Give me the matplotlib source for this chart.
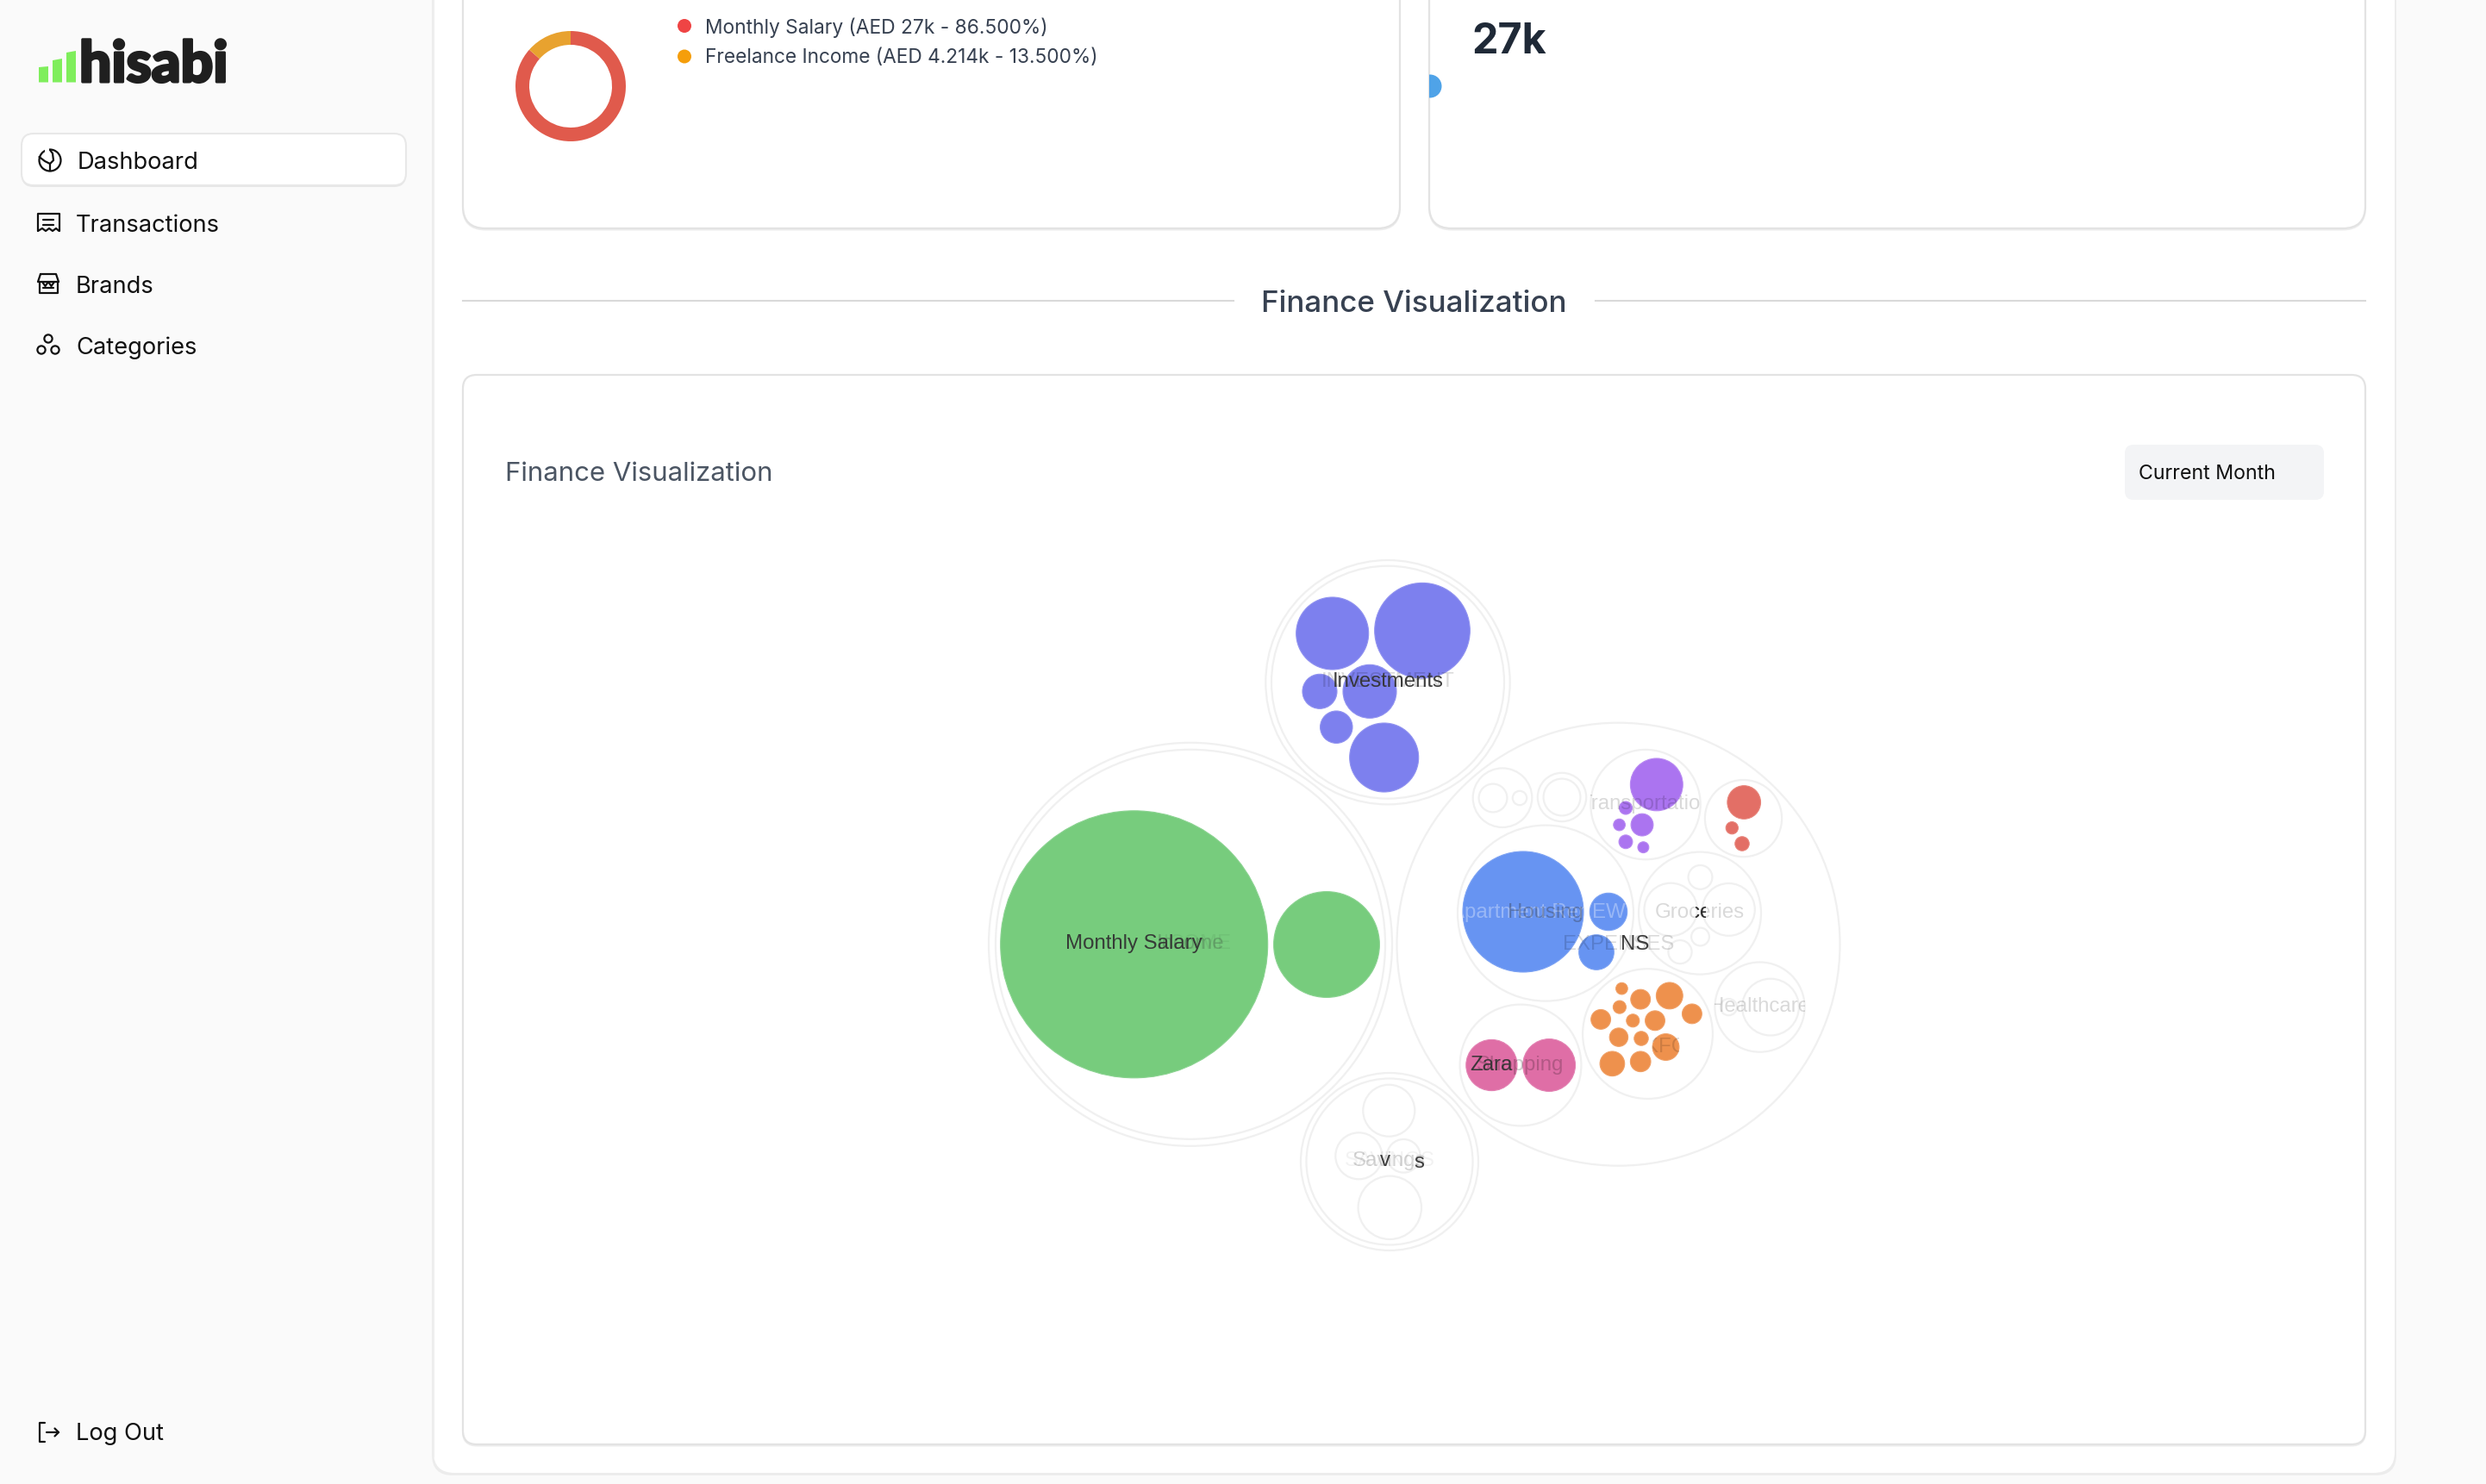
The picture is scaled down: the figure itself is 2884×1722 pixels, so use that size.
import matplotlib
matplotlib.use("Agg")
import matplotlib.pyplot as plt
import matplotlib.patheffects as pe
from matplotlib.patches import Circle, FancyBboxPatch, Polygon, Rectangle
from matplotlib.transforms import Bbox, TransformedBbox

W, H = 2884, 1722

# income shares shown in the donut
income_names = ["Monthly Salary", "Freelance Income"]
income_values = [27000, 4214]
income_legend = ["Monthly Salary (AED 27k - 86.500%)", "Freelance Income (AED 4.214k - 13.500%)"]

nav_items = ["Dashboard", "Transactions", "Brands", "Categories"]

# bubble pack, units are chart units of the pack axes
root_x = [1381, 1381, 1610, 1610, 1612, 1612, 1877.5]
root_y = [1095.8, 1095.8, 791.7, 791.7, 1348, 1348, 1095.7]
root_r = [234, 226, 141.7, 135, 103, 96.5, 257]

category_x = [1743, 1812, 1793, 1972, 1909, 2022.5, 1911.5, 2041.5, 1764]
category_y = [925.7, 925, 1059.6, 1059.6, 933.6, 949.6, 1199.6, 1168.6, 1236]
category_r = [34.3, 28.2, 102, 71, 63.7, 44.6, 75.4, 52.1, 70.4]

income_x = [1315.7, 1539]
income_y = [1095.8, 1096]
income_r = [155, 61.4]

invest_x = [1650, 1545.7, 1589, 1531, 1550.3, 1605.7]
invest_y = [731.7, 735, 802.3, 802.3, 843.7, 879]
invest_r = [55.3, 42, 31, 20, 18.7, 40]

housing_x = [1767, 1866, 1852]
housing_y = [1058, 1058, 1105]
housing_r = [70, 21.7, 20.3]

transport_x = [1921.8, 1886, 1905, 1878.6, 1886, 1906.4]
transport_y = [910.4, 937.5, 957.1, 957.1, 976.8, 983.2]
transport_r = [30.4, 7.5, 12.9, 6.8, 7.9, 6.4]

red_x = [2023.2, 2009.3, 2021]
red_y = [931, 960.7, 979]
red_r = [19.3, 7.1, 8.2]

food_x = [1936.8, 1903.2, 1881.4, 1878.9, 1962.9, 1857.1, 1894.3, 1920, 1877.9, 1904, 1932.5, 1870.4, 1903.2]
food_y = [1155.4, 1159.6, 1147.1, 1168.6, 1176.4, 1182.9, 1184.3, 1184.3, 1203.6, 1205, 1215, 1234.3, 1231.8]
food_r = [15.4, 11.4, 6.8, 7.5, 11.4, 11.4, 7.5, 11.4, 10.7, 8.2, 15.4, 14.3, 11.8]

shop_x = [1730.4, 1797.1]
shop_y = [1236, 1236]
shop_r = [29.6, 30.4]

# empty sub categories, only outlined
hollow_x = [1732, 1763, 1812, 1938.2, 2005.4, 1972.5, 1972.5, 1949, 2054, 2005.4, 1611.3, 1576.3, 1628.3, 1612.3]
hollow_y = [926, 926, 925, 1055.4, 1055.4, 1017.9, 1087, 1104.6, 1168.6, 1168.6, 1288.7, 1341.3, 1341.3, 1401.3]
hollow_r = [16.4, 8.2, 21.4, 30.7, 30.4, 13.9, 10.4, 13.6, 32.9, 9.6, 30, 27, 19.3, 36.7]

FS = 0.72  # px to pt at dpi 100


def box(ax, x0, y0, x1, y1, r, fc, ec="none", lw=0, z=1):
    p = FancyBboxPatch((x0, y0), x1 - x0, y1 - y0, boxstyle=f"round,pad=0,rounding_size={r}",
                       fc=fc, ec=ec, lw=lw, zorder=z)
    ax.add_patch(p)
    return p


def card(ax, x0, y0, x1, y1, r):
    # soft shadow under the border
    box(ax, x0, y0 + 1.5, x1, y1 + 1.5, r, "#eeeeee", "#eeeeee", 1.5, z=2)
    return box(ax, x0, y0, x1, y1, r, "white", "#e3e3e3", 1.6, z=2)


def circles(ax, xs, ys, rs, fc="none", ec="#f0f0f0", lw=1.6, z=2):
    for x, y, r in zip(xs, ys, rs):
        ax.add_patch(Circle((x, y), r, fc=fc, ec=ec, lw=lw, zorder=z))


def label(ax, x, y, s, size, color="#333333", alpha=1.0, clip=None, z=5, family="Liberation Sans"):
    t = ax.text(x, y, s, fontsize=size * FS, color=color, alpha=alpha, ha="center", va="center",
                family=family, zorder=z)
    if clip is not None:
        t.set_clip_box(TransformedBbox(Bbox([[clip[0], y - 30], [clip[1], y + 30]]), ax.transData))
        t.set_clip_on(True)
    return t


fig = plt.figure(figsize=(W / 100, H / 100), dpi=100, facecolor="#fafafa")
ui = fig.add_axes([0, 0, 1, 1])
ui.set_xlim(0, W)
ui.set_ylim(H, 0)
ui.axis("off")

# panels and cards
box(ui, 501, -60, 2780, 1712, 24, "#ececec", z=1)
box(ui, 503, -60, 2778, 1709, 24, "white", z=1)
card(ui, 537, -60, 1624, 265, 26)
right_card = card(ui, 1658, -60, 2744, 265, 26)
card(ui, 537, 435, 2744, 1676, 16)
ui.plot([503, 503], [0, 1690], color="#eeeeee", lw=1.5, zorder=1)

# logo
logo_x = [(45, 56), (61, 72), (77, 88)]
logo_top = [(78, 77), (70, 68), (61, 59)]
for (a, b), (t0, t1) in zip(logo_x, logo_top):
    ui.add_patch(Polygon([(a, 95.5), (a, t0), (b, t1), (b, 95.5)], fc="#7fee5c", ec="none", zorder=3))
logo = ui.text(92, 95, "hisabi", fontsize=66 * FS, family="Lato", weight="black", color="#1f1f1f",
               ha="left", va="baseline", zorder=3)
logo.set_path_effects([pe.withStroke(linewidth=2.2, foreground="#1f1f1f")])

# nav
box(ui, 25, 155, 471, 217, 14, "#e6e6e6", z=2)
box(ui, 25, 155, 471, 215, 14, "white", "#e8e8e8", 1.5, z=3)
nav_ys = [186, 259, 330, 401]
nav_xs = [90, 87.5, 88, 88]
for name, x, y in zip(nav_items, nav_xs, nav_ys):
    ui.text(x, y, name, fontsize=27.3 * FS, family="Inter", color="#111111", ha="left", va="center_baseline", zorder=4)
ui.text(88, 1661, "Log Out", fontsize=27.3 * FS, family="Inter", color="#111111", ha="left", va="center_baseline", zorder=4)

# nav icons
ik = dict(color="#111111", lw=1.6, zorder=4, solid_capstyle="round")
ui.add_patch(Circle((58, 186), 12.5, fc="none", ec="#111111", lw=1.6, zorder=4))
ui.add_patch(Rectangle((52, 172), 5, 7, fc="white", ec="none", zorder=4))
ui.plot([45.5, 52, 58, 58], [182, 187, 190, 198], **ik)
ui.plot([58, 62, 61, 58], [190, 186, 178, 174], **ik)
ui.plot([44, 44, 68.5, 68.5], [268, 248, 248, 268], **ik)
ui.plot([44, 49, 53, 57, 61, 65, 68.5], [268, 265, 268, 265, 268, 265, 268], **ik)
ui.plot([50, 62], [255, 255], **ik)
ui.plot([50, 62], [261, 261], **ik)
ui.plot([47, 65, 68, 44, 47], [318, 318, 327, 327, 318], **ik)
ui.plot([45.5, 45.5, 66.5, 66.5], [327, 340, 340, 327], **ik)
ui.plot([49, 52.5, 56, 59.5, 63], [327, 332, 327, 332, 327], **ik)
ui.plot([50, 62], [334, 334], **ik)
for cx, cy in [(56, 393), (48, 406), (64, 406)]:
    ui.add_patch(Circle((cx, cy), 4.6, fc="none", ec="#111111", lw=1.6, zorder=4))
ui.plot([52, 45.5, 45.5, 52], [1651, 1651, 1673, 1673], **ik)
ui.plot([54, 68], [1662, 1662], **ik)
ui.plot([63.5, 68, 63.5], [1657.5, 1662, 1666.5], **ik)

# top cards
ui.text(818, 29.5, income_legend[0], fontsize=22.8 * FS, family="Inter", color="#374151", ha="left", va="center_baseline", zorder=4)
ui.text(818, 65, income_legend[1], fontsize=22.7 * FS, family="Inter", color="#374151", ha="left", va="center_baseline", zorder=4)
ui.add_patch(Circle((794, 30), 8, fc="#ef4444", ec="none", zorder=4))
ui.add_patch(Circle((794, 65.5), 8, fc="#f59e0b", ec="none", zorder=4))
ui.text(1707, 62, "27k", fontsize=48.5 * FS, family="Inter", weight="bold", color="#1f2937", ha="left", va="baseline", zorder=4)
dot = Circle((1659, 100), 13.5, fc="#4fa3e8", ec="none", zorder=3)
ui.add_patch(dot)
dot.set_clip_path(right_card)

# donut
donut_ax = fig.add_axes([598 / W, 1 - 164 / H, 128 / W, 128 / H])
donut_ax.pie(income_values, colors=["#e05a4c", "#e8a22f"], startangle=90, counterclock=False,
             radius=1.0, wedgeprops=dict(width=0.25, edgecolor="none"))
donut_ax.set_xlim(-1, 1)
donut_ax.set_ylim(-1, 1)

# section heading
ui.plot([537, 1431], [349, 349], color="#d9d9d9", lw=1.5, zorder=2)
ui.plot([1851, 2744], [349, 349], color="#d9d9d9", lw=1.5, zorder=2)
ui.text(1640.5, 349.5, "Finance Visualization", fontsize=35 * FS, family="Inter", weight="medium", color="#374151",
        ha="center", va="center_baseline", zorder=4)
ui.text(586, 547, "Finance Visualization", fontsize=31.1 * FS, family="Inter", color="#4b5563", ha="left",
        va="center_baseline", zorder=4)
box(ui, 2465, 516, 2696, 580, 10, "#f3f4f6", z=3)
ui.text(2481, 548, "Current Month", fontsize=23.2 * FS, family="Inter", color="#111111", ha="left",
        va="center_baseline", zorder=4)

# bubble pack axes
pack = fig.add_axes([1100 / W, 1 - 1480 / H, 1080 / W, 840 / H])
pack.set_xlim(1100, 2180)
pack.set_ylim(1480, 640)
pack.axis("off")
pack.patch.set_alpha(0)

circles(pack, root_x, root_y, root_r)
circles(pack, category_x, category_y, category_r)
circles(pack, hollow_x, hollow_y, hollow_r)
circles(pack, income_x, income_y, income_r, fc="#77cc7d", ec="#8bd391", lw=0.8, z=3)
circles(pack, invest_x, invest_y, invest_r, fc="#7d80ee", ec="#9092f0", lw=0.8, z=3)
circles(pack, housing_x, housing_y, housing_r, fc="#6794f2", ec="#7ca2f3", lw=0.8, z=3)
circles(pack, transport_x, transport_y, transport_r, fc="#ab74f0", ec="#b889f2", lw=0.8, z=3)
circles(pack, red_x, red_y, red_r, fc="#e36f66", ec="#e78379", lw=0.8, z=3)
circles(pack, food_x, food_y, food_r, fc="#ee914d", ec="#f0a066", lw=0.8, z=3)
circles(pack, shop_x, shop_y, shop_r, fc="#df6ea6", ec="#e382b3", lw=0.8, z=3)

# labels, most of them are mid transition so faint and clipped to their circle
FAINT = 0.15
label(pack, 1381, 1095.5, "INCOME", 24, "#000000", 0.05, clip=(1345, 1428))
label(pack, 1381, 1095.5, "Income", 24, "#333333", 0.25)
label(pack, 1315.7, 1095.5, "Monthly Salary", 24, "#333333", 0.95)
label(pack, 1610, 791.5, "INVESTMENT", 24, "#000000", FAINT)
label(pack, 1610, 791.5, "Investments", 24, "#333333", 0.95)
label(pack, 1767, 1059.5, "Apartment Rent", 24, "#ffffff", 0.33, clip=(1697, 1837))
label(pack, 1793, 1059.5, "Housing", 24, "#333333", 0.35)
label(pack, 1866, 1059.5, "EW", 24, "#ffffff", 0.33, clip=(1844, 1888))
label(pack, 1877.5, 1096.5, "EXPENSES", 24, "#000000", FAINT)
label(pack, 1897, 1096.5, "NS", 24, "#333333", 0.95)
label(pack, 1972, 1059.5, "Groceries", 24, "#000000", FAINT)
label(pack, 1973, 1059.5, "ce", 24, "#222222", 0.95, clip=(1967, 1979))
label(pack, 1909, 933.5, "Transportation", 24, "#000000", FAINT, clip=(1845, 1973))
label(pack, 2041.5, 1168.5, "Healthcare", 24, "#000000", FAINT, clip=(1989, 2094))
label(pack, 1932.5, 1215.5, "KFC", 24, "#000000", 0.14, clip=(1917, 1948))
label(pack, 1764, 1236.5, "Shopping", 24, "#000000", 0.2)
label(pack, 1730.4, 1236.5, "Zara", 24, "#333333", 0.95)
label(pack, 1612, 1347.5, "SAVINGS", 24, "#000000", 0.05)
label(pack, 1612, 1347.5, "Savings", 24, "#000000", 0.17)
label(pack, 1610, 1347.5, "vi", 24, "#333333", 0.95, clip=(1600, 1613))
label(pack, 1646, 1349, "s", 24, "#333333", 0.95)

fig.savefig("out.png", dpi=100, facecolor=fig.get_facecolor())
